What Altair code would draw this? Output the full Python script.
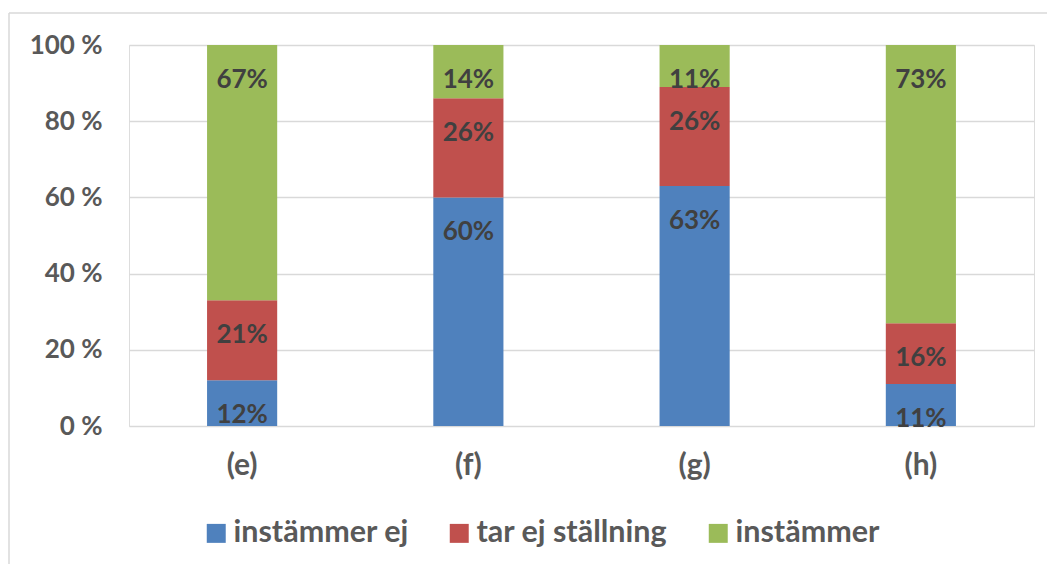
import altair as alt
import pandas as pd

categories = ["(e)", "(f)", "(g)", "(h)"]
series = ["instämmer ej", "tar ej ställning", "instämmer"]
colors = ["#4F81BD", "#C0504D", "#9BBB59"]
instammer_ej = [12, 60, 63, 11]
tar_ej = [21, 26, 26, 16]
instammer = [67, 14, 11, 73]
y_ticks = [0, 20, 40, 60, 80, 100]

rows = []
for si, (name, vals) in enumerate(zip(series, [instammer_ej, tar_ej, instammer])):
    for c, v in zip(categories, vals):
        rows.append({"cat": c, "serie": name, "idx": si, "value": v})
df = pd.DataFrame(rows)

FONT = "Lato"

base = alt.Chart(df).transform_stack(
    stack="value", as_=["v0", "v1"], groupby=["cat"], sort=[alt.SortField("idx", order="ascending")]
)

x = alt.X("cat:N", sort=categories, title=None,
          scale=alt.Scale(paddingInner=0.69, paddingOuter=0.345),
          axis=alt.Axis(labelAngle=0, ticks=False, domain=False, labelPadding=24,
                        labelFont=FONT, labelFontSize=30, labelFontWeight="bold",
                        labelColor="#595959", grid=False))

bars = base.mark_bar().encode(
    x=x,
    y=alt.Y("v0:Q", title=None, scale=alt.Scale(domain=[0, 100], nice=False),
            axis=alt.Axis(values=y_ticks, labelExpr="datum.value + ' %'", ticks=False, domain=False,
                          labelPadding=27, labelFont=FONT, labelFontSize=26, labelFontWeight="bold",
                          labelColor="#595959", grid=True, gridColor="#d9d9d9", gridWidth=1.5)),
    y2="v1:Q",
    color=alt.Color("serie:N", sort=series,
                    scale=alt.Scale(domain=series, range=colors),
                    legend=alt.Legend(title=None, orient="none", legendX=72, legendY=473,
                                      direction="horizontal", columns=3, symbolType="square",
                                      symbolSize=360, symbolStrokeWidth=0, labelFont=FONT,
                                      labelFontSize=30.5, labelFontWeight="bold", labelColor="#595959",
                                      labelOffset=2, columnPadding=35, labelLimit=400)),
)

labels = base.mark_text(font=FONT, fontSize=26, fontWeight="bold", color="#404040",
                        baseline="middle", dy=35).encode(
    x=alt.X("cat:N", sort=categories),
    y=alt.Y("v1:Q"),
    text=alt.Text("label:N"),
).transform_calculate(label="datum.value + '%'")

frame_df = pd.DataFrame({"a": [0]})
frame_left = alt.Chart(frame_df).mark_rule(color="#d9d9d9", strokeWidth=1.5).encode(
    x=alt.value(-120), y=alt.value(-32), y2=alt.value(700)
)
frame_top = alt.Chart(frame_df).mark_rule(color="#d9d9d9", strokeWidth=1.5).encode(
    x=alt.value(-120), x2=alt.value(1200), y=alt.value(-32)
)

chart = alt.layer(frame_left, frame_top, bars, labels).properties(
    width=905, height=381,
    autosize=alt.AutoSizeParams(type="none"),
    padding={"left": 121, "top": 37, "right": 13, "bottom": 138},
).configure_view(stroke=None).configure(background="white")

chart.save("out.html", embed_options={"renderer": "svg", "actions": False})
